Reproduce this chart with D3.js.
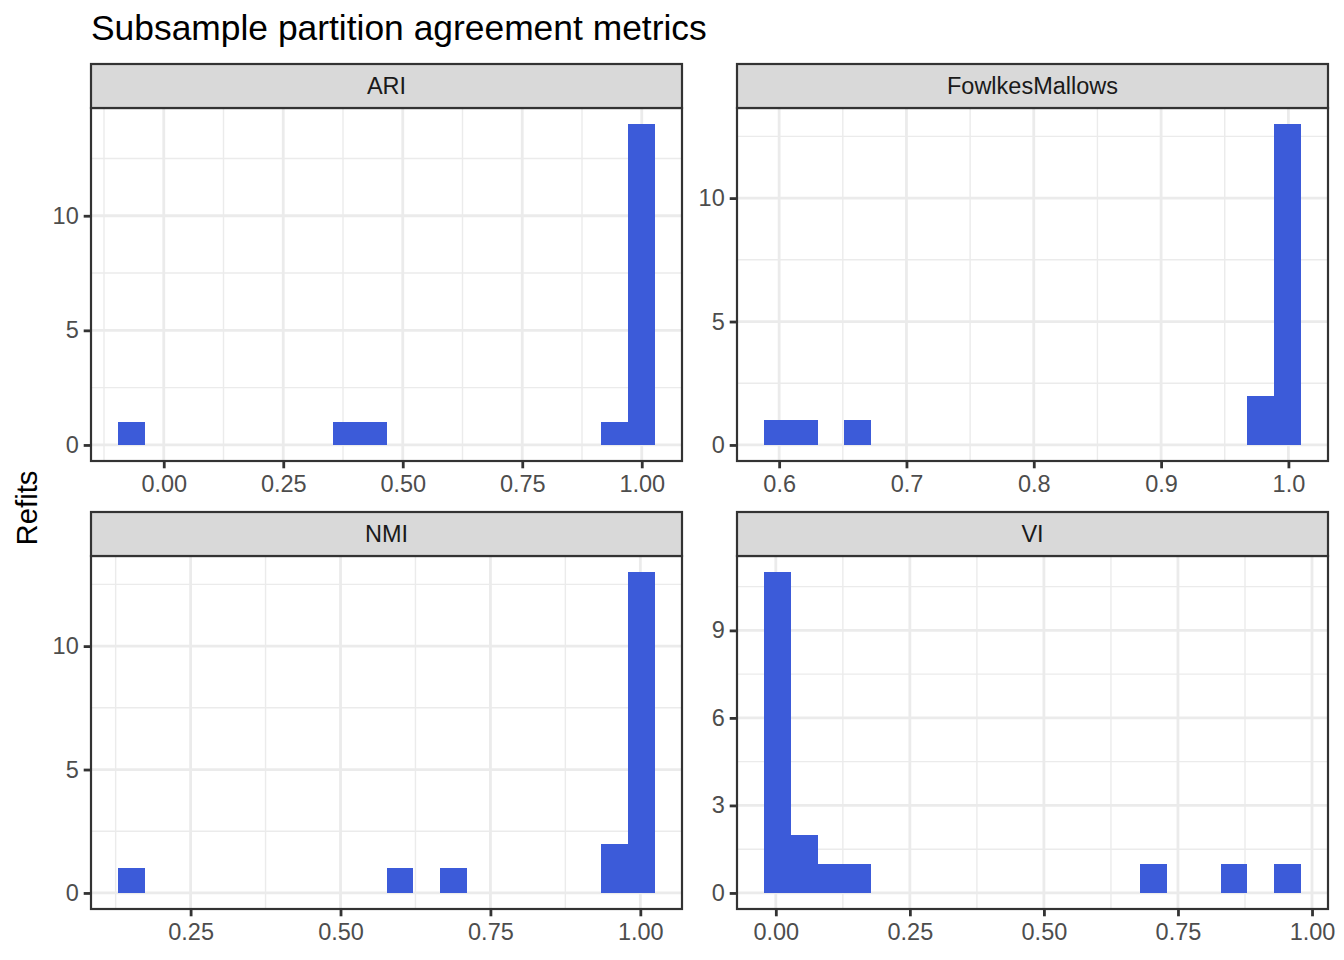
<!DOCTYPE html>
<html>
<head>
<meta charset="utf-8">
<script src="https://cdn.jsdelivr.net/npm/d3@7"></script>
<style>
  body { margin: 0; background: #fff; }
  svg { display: block; font-family: "Liberation Sans", Arial, sans-serif; }
</style>
</head>
<body>
<div id="chart"></div>
<script>
// facets, in facet_wrap order (row by row)
const facets = ['ARI', 'FowlkesMallows', 'NMI', 'VI'];

// histogram bins (20 bins per facet): left edge of first bin and bin width
const binStart = [-0.096, 0.588, 0.1287, -0.0223];
const binWidth = [0.0562, 0.0211, 0.0448, 0.0501];

// counts per bin
const ariCounts = [1, 0, 0, 0, 0, 0, 0, 0, 1, 1, 0, 0, 0, 0, 0, 0, 0, 0, 1, 14];
const fmCounts  = [1, 1, 0, 1, 0, 0, 0, 0, 0, 0, 0, 0, 0, 0, 0, 0, 0, 0, 2, 13];
const nmiCounts = [1, 0, 0, 0, 0, 0, 0, 0, 0, 0, 1, 0, 1, 0, 0, 0, 0, 0, 2, 13];
const viCounts  = [11, 2, 1, 1, 0, 0, 0, 0, 0, 0, 0, 0, 0, 0, 1, 0, 0, 1, 0, 1];
const counts = [ariCounts, fmCounts, nmiCounts, viCounts];

// axis breaks
const xTicks = [
  [0, 0.25, 0.5, 0.75, 1],
  [0.6, 0.7, 0.8, 0.9, 1.0],
  [0.25, 0.5, 0.75, 1],
  [0, 0.25, 0.5, 0.75, 1]
];
const xFormats = ['.2f', '.1f', '.2f', '.2f'];
const yTicks = [
  [0, 5, 10],
  [0, 5, 10],
  [0, 5, 10],
  [0, 3, 6, 9]
];

const width = 1344;
const height = 960;
const plotLeft = 91, plotRight = 1328, plotTop = 64;
const colGap = 55, rowGap = 51;
const stripH = 44, panelH = 353;
const panelW = (plotRight - plotLeft - colGap) / 2;

const barColor = '#3c5bd9';
const gridColor = '#ebebeb';
const dark = '#333333';
const fontTick = 23.5;

const svg = d3.select('#chart')
  .append('svg')
  .attr('width', width)
  .attr('height', height);

svg.append('rect')
  .attr('width', width)
  .attr('height', height)
  .attr('fill', '#fff');

// title
svg.append('text')
  .attr('x', plotLeft)
  .attr('y', 40)
  .attr('font-size', 35.4)
  .attr('fill', '#000')
  .text('Subsample partition agreement metrics');

// y axis title
svg.append('text')
  .attr('transform', 'translate(37,508) rotate(-90)')
  .attr('text-anchor', 'middle')
  .attr('font-size', 29.3)
  .attr('fill', '#000')
  .text('Refits');

// minor breaks: midpoints between majors, extended one step each way
function minors(ticks, domain) {
  const step = ticks[1] - ticks[0];
  const out = [];
  for (let i = -1; i < ticks.length; i++) {
    const v = ticks[0] + step * (i + 0.5);
    if (v >= domain[0] && v <= domain[1]) out.push(v);
  }
  return out;
}

facets.forEach((name, i) => {
  const col = i % 2, row = Math.floor(i / 2);
  const px = plotLeft + col * (panelW + colGap);
  const sy = plotTop + row * (stripH + panelH + rowGap);
  const py = sy + stripH;

  const n = counts[i].length;
  const w = binWidth[i];
  const x0 = binStart[i];
  const bins = counts[i].map((c, k) => ({ x0: x0 + k * w, x1: x0 + (k + 1) * w, count: c }));

  const span = n * w;
  const x = d3.scaleLinear()
    .domain([x0 - 0.05 * span, x0 + span + 0.05 * span])
    .range([px, px + panelW]);

  const yMax = d3.max(counts[i]);
  const y = d3.scaleLinear()
    .domain([-0.05 * yMax, yMax * 1.05])
    .range([py + panelH, py]);

  const g = svg.append('g');

  g.append('rect')
    .attr('x', px).attr('y', py)
    .attr('width', panelW).attr('height', panelH)
    .attr('fill', '#fff');

  // minor grid
  g.selectAll('.xminor')
    .data(minors(xTicks[i], x.domain()))
    .enter().append('line')
    .attr('x1', d => x(d)).attr('x2', d => x(d))
    .attr('y1', py).attr('y2', py + panelH)
    .attr('stroke', gridColor).attr('stroke-width', 1.4);

  g.selectAll('.yminor')
    .data(minors(yTicks[i], y.domain()))
    .enter().append('line')
    .attr('x1', px).attr('x2', px + panelW)
    .attr('y1', d => y(d)).attr('y2', d => y(d))
    .attr('stroke', gridColor).attr('stroke-width', 1.4);

  // major grid
  g.selectAll('.xmajor')
    .data(xTicks[i])
    .enter().append('line')
    .attr('x1', d => x(d)).attr('x2', d => x(d))
    .attr('y1', py).attr('y2', py + panelH)
    .attr('stroke', gridColor).attr('stroke-width', 2.8);

  g.selectAll('.ymajor')
    .data(yTicks[i])
    .enter().append('line')
    .attr('x1', px).attr('x2', px + panelW)
    .attr('y1', d => y(d)).attr('y2', d => y(d))
    .attr('stroke', gridColor).attr('stroke-width', 2.8);

  // bars
  g.selectAll('.bar')
    .data(bins.filter(b => b.count > 0))
    .enter().append('rect')
    .attr('x', d => x(d.x0))
    .attr('width', d => x(d.x1) - x(d.x0))
    .attr('y', d => y(d.count))
    .attr('height', d => y(0) - y(d.count))
    .attr('fill', barColor)
    .attr('shape-rendering', 'crispEdges');

  // panel border
  g.append('rect')
    .attr('x', px).attr('y', py)
    .attr('width', panelW).attr('height', panelH)
    .attr('fill', 'none')
    .attr('stroke', dark).attr('stroke-width', 2.2);

  // strip
  g.append('rect')
    .attr('x', px).attr('y', sy)
    .attr('width', panelW).attr('height', stripH)
    .attr('fill', '#d9d9d9')
    .attr('stroke', dark).attr('stroke-width', 2.2);

  g.append('text')
    .attr('x', px + panelW / 2)
    .attr('y', sy + stripH / 2)
    .attr('dy', '0.36em')
    .attr('text-anchor', 'middle')
    .attr('font-size', fontTick)
    .attr('fill', '#1a1a1a')
    .text(name);

  // x axis
  const xAxis = g.append('g')
    .attr('transform', `translate(0,${py + panelH})`)
    .call(d3.axisBottom(x)
      .tickValues(xTicks[i])
      .tickFormat(d3.format(xFormats[i]))
      .tickSize(7.3)
      .tickPadding(7));
  xAxis.select('.domain').remove();
  xAxis.selectAll('line').attr('stroke', dark).attr('stroke-width', 2.8);
  xAxis.selectAll('text')
    .attr('font-family', null)
    .attr('font-size', fontTick)
    .attr('fill', '#4d4d4d');

  // y axis
  const yAxis = g.append('g')
    .attr('transform', `translate(${px},0)`)
    .call(d3.axisLeft(y)
      .tickValues(yTicks[i])
      .tickFormat(d3.format('d'))
      .tickSize(7.3)
      .tickPadding(5));
  yAxis.select('.domain').remove();
  yAxis.selectAll('line').attr('stroke', dark).attr('stroke-width', 2.8);
  yAxis.selectAll('text')
    .attr('font-family', null)
    .attr('font-size', fontTick)
    .attr('fill', '#4d4d4d');
});
</script>
</body>
</html>
